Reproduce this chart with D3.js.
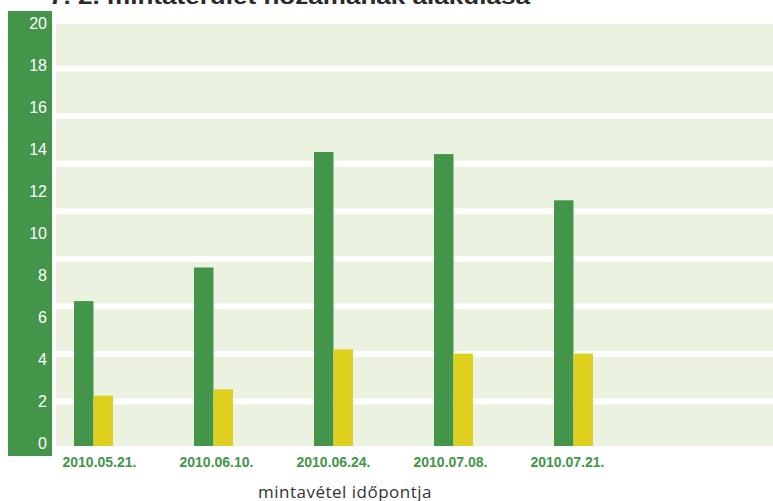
<!DOCTYPE html>
<html>
<head>
<meta charset="utf-8">
<script src="https://cdn.jsdelivr.net/npm/d3@7"></script>
<style>
  html, body { margin: 0; padding: 0; background: #ffffff; }
  svg { display: block; }
</style>
</head>
<body>
<svg id="chart" width="773" height="501"></svg>
<script>
// Sampling dates and the two measured series
const dates = ["2010.05.21.", "2010.06.10.", "2010.06.24.", "2010.07.08.", "2010.07.21."];
const greenValues = [6.9, 8.5, 14.0, 13.9, 11.7];
const yellowValues = [2.4, 2.7, 4.6, 4.4, 4.4];
const yTicks = [0, 2, 4, 6, 8, 10, 12, 14, 16, 18, 20];
const titleText = "7. 2. mintaterület hozamának alakulása";
const xTitle = "mintavétel időpontja";

const GREEN = "#43954a";
const YELLOW = "#dfcf1f";
const BAND = "#ebf2df";

const svg = d3.select("#chart");

// Value scale
const y = d3.scaleLinear().domain([0, 20]).range([446, 26]);

// Grouped bar positions
const x = d3.scaleBand().domain(dates).range([74, 593]).paddingInner(0.675).paddingOuter(0);
const xSub = d3.scaleBand().domain(["green", "yellow"]).range([0, x.bandwidth()]);

// Category label positions
const xLabel = d3.scalePoint().domain(dates).range([99, 567]);

// Decorative striped background
const stripes = d3.scaleBand().domain(d3.range(9)).range([24, 446]).paddingInner(0.126).paddingOuter(0);
svg.append("g").selectAll("rect")
  .data(stripes.domain())
  .join("rect")
  .attr("x", 56)
  .attr("width", 773 - 56)
  .attr("y", d => stripes(d))
  .attr("height", stripes.bandwidth())
  .attr("fill", BAND);

// Title (runs off the top edge)
svg.append("text")
  .attr("x", 49)
  .attr("y", 4)
  .attr("textLength", 481)
  .attr("lengthAdjust", "spacingAndGlyphs")
  .attr("font-family", "Liberation Sans, Arial, sans-serif")
  .attr("font-weight", "bold")
  .attr("font-size", 22)
  .attr("fill", "#2a2a2a")
  .text(titleText);

// Vertical axis strip
svg.append("rect")
  .attr("x", 8).attr("y", 11)
  .attr("width", 44).attr("height", 445)
  .attr("fill", GREEN);

const yAxis = d3.axisLeft(y).tickValues(yTicks).tickSize(0).tickPadding(0).tickFormat(d3.format("d"));
const yg = svg.append("g").attr("transform", "translate(47,0)").call(yAxis);
yg.select(".domain").remove();
yg.selectAll("text")
  .attr("fill", "#ffffff")
  .attr("font-family", "Liberation Sans, Arial, sans-serif")
  .attr("font-size", 16)
  .attr("dy", "0.13em");

// Bars
const groups = svg.append("g").selectAll("g")
  .data(dates)
  .join("g")
  .attr("transform", d => `translate(${x(d)},0)`);

groups.append("rect")
  .attr("x", xSub("green"))
  .attr("width", xSub.bandwidth())
  .attr("y", (d, i) => y(greenValues[i]))
  .attr("height", (d, i) => y(0) - y(greenValues[i]))
  .attr("fill", GREEN);

groups.append("rect")
  .attr("x", xSub("yellow"))
  .attr("width", xSub.bandwidth())
  .attr("y", (d, i) => y(yellowValues[i]))
  .attr("height", (d, i) => y(0) - y(yellowValues[i]))
  .attr("fill", YELLOW);

// Category axis
const xAxis = d3.axisBottom(xLabel).tickSize(0).tickPadding(0);
const xg = svg.append("g").attr("transform", "translate(0,467)").call(xAxis);
xg.select(".domain").remove();
xg.selectAll("text")
  .attr("dy", 0)
  .attr("fill", GREEN)
  .attr("font-family", "Liberation Sans, Arial, sans-serif")
  .attr("font-weight", "bold")
  .attr("font-size", 14);

// Axis title
svg.append("text")
  .attr("x", 345)
  .attr("y", 498)
  .attr("text-anchor", "middle")
  .attr("font-family", "Open Sans, sans-serif")
  .attr("font-size", 17)
  .attr("letter-spacing", 0.5)
  .attr("fill", "#333333")
  .text(xTitle);
</script>
</body>
</html>
